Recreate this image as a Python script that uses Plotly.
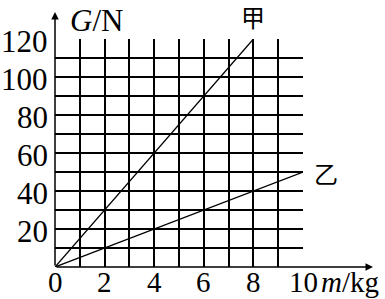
import plotly.graph_objects as go

# data
jia_m = [0, 8]
jia_G = [0, 120]
yi_m = [0, 10]
yi_G = [0, 50]
x_ticks = [0, 2, 4, 6, 8, 10]
y_ticks = [20, 40, 60, 80, 100, 120]

W, H = 385, 299
ml, mr, mt, mb = 55, 82, 39, 32
ph = H - mt - mb
pw = W - ml - mr

fig = go.Figure()
fig.add_trace(go.Scatter(x=jia_m, y=jia_G, mode="lines",
                         line=dict(color="black", width=1.3), showlegend=False))
fig.add_trace(go.Scatter(x=yi_m, y=yi_G, mode="lines",
                         line=dict(color="black", width=1.3), showlegend=False))

serif = "Liberation Serif"
cjk = "Noto Sans CJK SC"
yfont = dict(family=serif, size=31, color="black")
xfont = dict(family=serif, size=29, color="black")

fig.update_layout(
    width=W, height=H,
    font=dict(family=serif, size=29, color="black"),
    margin=dict(l=ml, r=mr, t=mt, b=mb, pad=0, autoexpand=False),
    plot_bgcolor="white", paper_bgcolor="white",
    xaxis=dict(range=[0, 10], tickvals=x_ticks, showticklabels=False,
               showgrid=True, gridcolor="black", gridwidth=1.6,
               minor=dict(dtick=1, showgrid=True, gridcolor="black", gridwidth=1.6),
               zeroline=False, showline=False, ticks="", automargin=False),
    yaxis=dict(range=[0, 120], tickvals=y_ticks, showticklabels=False,
               showgrid=True, gridcolor="black", gridwidth=1.6,
               minor=dict(dtick=10, showgrid=True, gridcolor="black", gridwidth=1.6),
               zeroline=False, showline=False, ticks="", automargin=False),
)

# tick labels (serif)
for v in x_ticks:
    fig.add_annotation(x=v, y=-15 / ph, xref="x", yref="paper", xanchor="center",
                       yanchor="middle", showarrow=False, text=str(v), font=xfont)
for v in y_ticks:
    fig.add_annotation(x=-5 / pw, y=v, xref="paper", yref="y", xanchor="right",
                       yanchor="middle", showarrow=False, text=str(v), font=yfont,
                       yshift=-2)

# axis arrows
fig.add_annotation(xref="paper", yref="paper", x=0, y=1 + 27 / ph, ax=0, ay=27 + ph,
                   axref="pixel", ayref="pixel", text="", showarrow=True,
                   arrowhead=2, arrowsize=1, arrowwidth=1.5, arrowcolor="black")
fig.add_annotation(xref="paper", yref="paper", x=1 + 70 / pw, y=0, ax=-(70 + pw), ay=0,
                   axref="pixel", ayref="pixel", text="", showarrow=True,
                   arrowhead=2, arrowsize=1, arrowwidth=1.5, arrowcolor="black")

# axis titles
fig.add_annotation(xref="paper", yref="paper", x=13 / pw, y=1 + 19 / ph,
                   xanchor="left", yanchor="middle", showarrow=False,
                   text="<i>G</i>/N", font=yfont)
fig.add_annotation(xref="paper", yref="paper", x=1 + 16 / pw, y=-15 / ph,
                   xanchor="left", yanchor="middle", showarrow=False,
                   text="<i>m</i>/kg", font=xfont)

# line labels
fig.add_annotation(x=jia_m[-1], y=jia_G[-1], xref="x", yref="y", yshift=23,
                   showarrow=False, text="甲", font=dict(family=cjk, size=24, color="black"))
fig.add_annotation(x=yi_m[-1], y=yi_G[-1], xref="x", yref="y", xshift=23, yshift=0,
                   showarrow=False, text="乙", font=dict(family=cjk, size=24, color="black"))

fig.write_html("out.html")
